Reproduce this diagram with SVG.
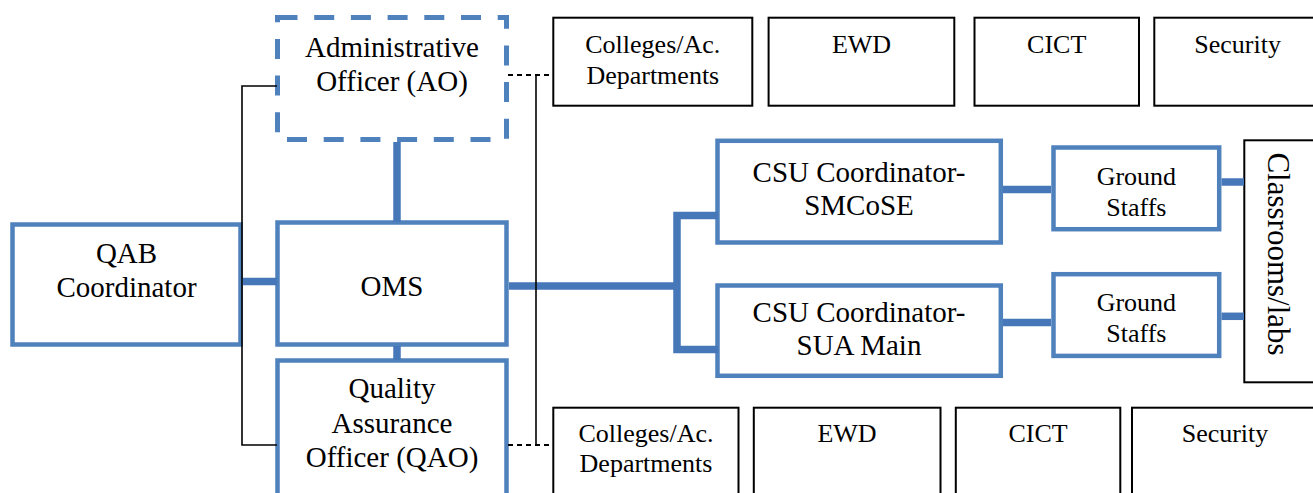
<svg xmlns="http://www.w3.org/2000/svg" width="1313" height="493" viewBox="0 0 1313 493">
<style>
text{font-family:'Liberation Serif','Times New Roman',serif;fill:#000;text-anchor:middle}
.b{fill:#fff;stroke:#4F81BD;stroke-width:4.5}
.d{fill:#fff;stroke:#4F81BD;stroke-width:5;stroke-dasharray:20 16.7}
.k{fill:#fff;stroke:#000;stroke-width:2}
.m{font-size:29px}
.s{font-size:26px}
.c{fill:none;stroke:#4677B9;stroke-width:7.5;stroke-linejoin:miter}
.t{fill:none;stroke:#000;stroke-width:1.6}
.td{fill:none;stroke:#000;stroke-width:1.8;stroke-dasharray:5 4}
</style>
<g id="top-row">
<g id="top-colleges"><rect class="k" x="553.3" y="17.7" width="199" height="88"/><text class="s" x="652.8" y="53">Colleges/Ac.</text><text class="s" x="652.8" y="84">Departments</text></g>
<g id="top-ewd"><rect class="k" x="768.6" y="17.7" width="185.7" height="88"/><text class="s" x="861.5" y="53">EWD</text></g>
<g id="top-cict"><rect class="k" x="974.5" y="17.7" width="164.5" height="88"/><text class="s" x="1056.7" y="53">CICT</text></g>
<g id="top-security"><rect class="k" x="1154.3" y="17.7" width="166.7" height="88"/><text class="s" x="1237.6" y="53">Security</text></g>
</g>
<g id="bottom-row">
<g id="bot-colleges"><rect class="k" x="553.3" y="407.7" width="185.2" height="100"/><text class="s" x="646" y="441.7">Colleges/Ac.</text><text class="s" x="646" y="471.7">Departments</text></g>
<g id="bot-ewd"><rect class="k" x="753.8" y="407.7" width="186.7" height="100"/><text class="s" x="847" y="441.7">EWD</text></g>
<g id="bot-cict"><rect class="k" x="955.8" y="407.7" width="164.5" height="100"/><text class="s" x="1038" y="441.7">CICT</text></g>
<g id="bot-security"><rect class="k" x="1132" y="407.7" width="186" height="100"/><text class="s" x="1225" y="441.7">Security</text></g>
</g>
<g id="classrooms"><rect class="k" x="1244.3" y="140.3" width="80" height="242"/><text transform="translate(1268,254) rotate(90)" style="font-size:31px">Classrooms/labs</text></g>
<g id="qab"><rect class="b" x="12.5" y="224.5" width="228" height="120"/><text class="m" x="126.5" y="263">QAB</text><text class="m" x="126.5" y="297">Coordinator</text></g>
<g id="ao"><rect class="d" x="277.5" y="17.5" width="229" height="122"/><text class="m" x="392" y="57">Administrative</text><text class="m" x="392" y="91">Officer (AO)</text></g>
<g id="oms"><rect class="b" x="277.5" y="222.5" width="229" height="122"/><text class="m" x="392" y="295.5">OMS</text></g>
<g id="qao"><rect class="b" x="277.5" y="360.5" width="229" height="160"/><text class="m" x="392" y="398">Quality</text><text class="m" x="392" y="432.5">Assurance</text><text class="m" x="392" y="467">Officer (QAO)</text></g>
<g id="csu-smcose"><rect class="b" x="717.5" y="140.8" width="283.3" height="101.7"/><text class="m" x="859" y="182">CSU Coordinator-</text><text class="m" x="859" y="215">SMCoSE</text></g>
<g id="csu-sua"><rect class="b" x="717.5" y="285.5" width="283.3" height="90.3"/><text class="m" x="859" y="322">CSU Coordinator-</text><text class="m" x="859" y="355">SUA Main</text></g>
<g id="gs1"><rect class="b" x="1053.5" y="147.5" width="165.7" height="81.7"/><text class="s" x="1136.4" y="185">Ground</text><text class="s" x="1136.4" y="216">Staffs</text></g>
<g id="gs2"><rect class="b" x="1053.5" y="274.2" width="165.7" height="81.7"/><text class="s" x="1136.4" y="311">Ground</text><text class="s" x="1136.4" y="342">Staffs</text></g>
<g id="connectors">
<path class="c" d="M397 142V222"/>
<path class="c" d="M397 346V360"/>
<path class="c" d="M243 281.5H277"/>
<path class="c" d="M509 286H677"/>
<path class="c" d="M718 215.5H677V349.5H718"/>
<path class="c" d="M1003 189.5H1051"/>
<path class="c" d="M1003 322.5H1051"/>
<path class="c" d="M1221.5 182H1244"/>
<path class="c" d="M1221.5 316.3H1244"/>
<path class="t" d="M277 86H242V445H277"/>
<path class="t" d="M536 75V445"/>
<path class="td" d="M508 75H553"/>
<path class="td" d="M508 445H553"/>
</g>
</svg>
